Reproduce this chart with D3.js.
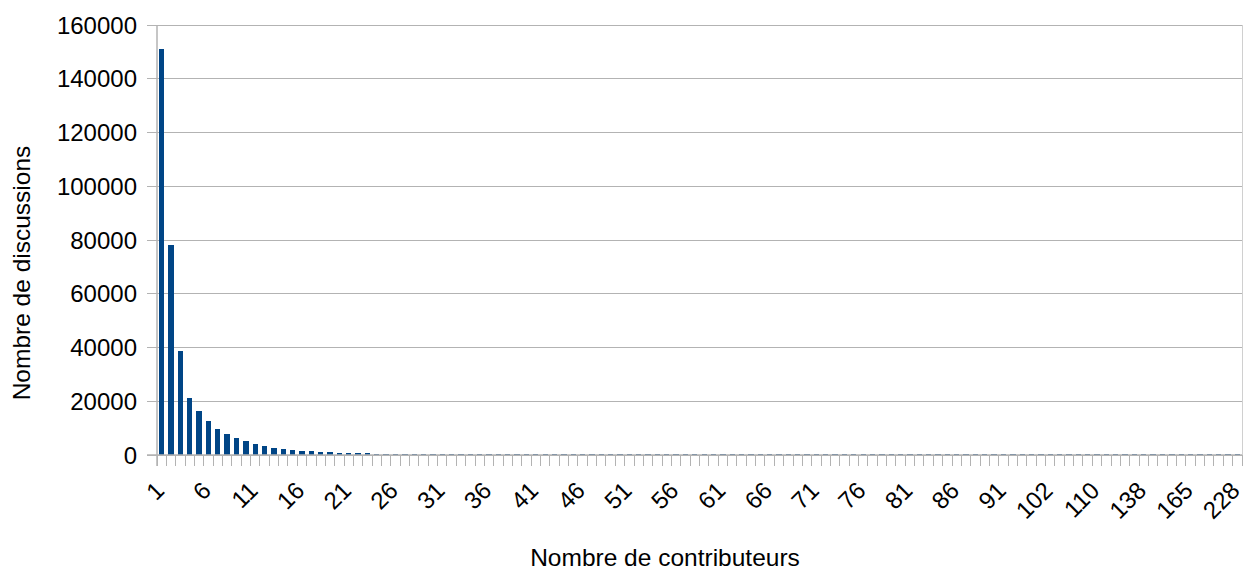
<!DOCTYPE html>
<html><head><meta charset="utf-8">
<script src="https://cdn.jsdelivr.net/npm/d3@7"></script>
<style>body{margin:0;background:#fff}text{font-family:"Liberation Sans",Arial,sans-serif;fill:#000}</style>
</head><body><svg id="c" width="1244" height="571"></svg>
<script>
const categories = [];
for (let i = 1; i <= 91; i++) categories.push(String(i));
const tailCategories = ["93","94","96","99","102","103","104","106","108","110","114","119","124","131","138","142","147","153","160","165","174","183","196","211","228"];
tailCategories.forEach(c => categories.push(c));

const values = [
 151000,78200,38800,21200,16400,12700,9700,7800,6300,5200,
 4100,3400,2700,2300,1900,1600,1400,1150,1000,850,
 750,680,600,530,470,420,370,330,300,270,
 240,215,195,180,165,150,135,125,115,105,
 98,90,84,78,72,67,62,58,54,50,
 47,44,41,39,36,34,32,30,29,27,
 25,24,22,21,20,19,18,17,16,15,
 14,13,13,12,11,11,10,10,9,9,
 8,8,7,7,6,6,6,5,5,5,4,
 4,4,3,3,3,3,2,2,2,2,2,2,1,1,1,1,1,1,1,1,1,1,1,1,1
];
const yTicks = [0,20000,40000,60000,80000,100000,120000,140000,160000];
const xTitle = "Nombre de contributeurs";
const yTitle = "Nombre de discussions";

const L = 157, R = 1242, T = 25, B = 455;
const FS = 24;
const svg = d3.select("#c");
const x = d3.scaleBand().domain(categories).range([L, R]).paddingInner(0.43).paddingOuter(0.215);
const xb = d3.scaleBand().domain(categories).range([L, R]);
const y = d3.scaleLinear().domain([0, 160000]).range([B, T]);
const grid = "#b3b3b3";

// gridlines + y ticks
svg.append("g").selectAll("line").data(yTicks).join("line")
  .attr("x1", L - 10).attr("x2", R).attr("y1", d => y(d)).attr("y2", d => y(d))
  .attr("stroke", grid).attr("stroke-width", 1).attr("shape-rendering", "crispEdges");
svg.append("g").selectAll("text").data(yTicks).join("text")
  .attr("x", L - 20).attr("y", d => y(d)).attr("dy", "0.36em")
  .attr("text-anchor", "end").attr("font-size", FS).text(d => d);

// right border
svg.append("line").attr("x1", R).attr("x2", R).attr("y1", T).attr("y2", B)
  .attr("stroke", "#d0d0d0").attr("shape-rendering", "crispEdges");

// x ticks at category boundaries
const bounds = categories.map(c => xb(c)).concat([R]);
svg.append("g").selectAll("line").data(bounds).join("line")
  .attr("x1", d => d).attr("x2", d => d).attr("y1", B).attr("y2", B + 11)
  .attr("stroke", grid).attr("shape-rendering", "crispEdges");

// bars
svg.append("g").selectAll("rect").data(values).join("rect")
  .attr("x", (d, i) => x(categories[i]))
  .attr("width", x.bandwidth())
  .attr("y", d => Math.min(y(d), B - 1))
  .attr("height", d => Math.max(1, B - y(d)))
  .attr("fill", "#004586").attr("shape-rendering", "crispEdges");

// axes lines
svg.append("line").attr("x1", L).attr("x2", L).attr("y1", T).attr("y2", B + 11)
  .attr("stroke", grid).attr("stroke-width", 1.5);
svg.append("line").attr("x1", L - 10).attr("x2", R).attr("y1", B).attr("y2", B)
  .attr("stroke", grid).attr("stroke-width", 1.5);

// x labels every 5th category
svg.append("g").selectAll("text").data(categories.filter((c, i) => i % 5 === 0)).join("text")
  .attr("transform", c => `translate(${xb(c) + xb.bandwidth() / 2 - 2},${B + 31}) rotate(-45)`)
  .attr("text-anchor", "end").attr("dy", "0.35em").attr("font-size", FS).text(c => c);

// titles
svg.append("text").attr("x", 665).attr("y", 566).attr("text-anchor", "middle")
  .attr("font-size", 24.5).text(xTitle);
svg.append("text").attr("transform", "translate(30,273) rotate(-90)")
  .attr("text-anchor", "middle").attr("font-size", 24.5).text(yTitle);
</script></body></html>
